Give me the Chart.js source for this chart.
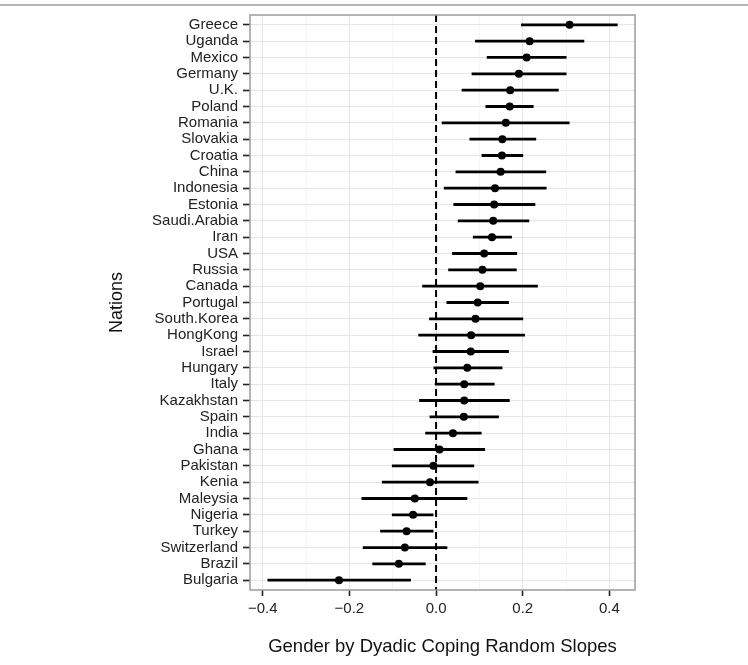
<!DOCTYPE html>
<html>
<head>
<meta charset="utf-8">
<script src="https://cdn.jsdelivr.net/npm/chart.js@4.4.1/dist/chart.umd.min.js"></script>
<style>
  html, body { margin: 0; padding: 0; background: #fff; }
  #wrap { position: relative; width: 748px; height: 665px; }
  #rule { position: absolute; left: 0; top: 4px; width: 748px; height: 2px; background: #b4b4b4; }
  canvas { display: block; }
</style>
</head>
<body>
<div id="wrap">
  <canvas id="slopeChart" width="748" height="665"></canvas>
  <div id="rule"></div>
</div>
<script>
'use strict';

/* data, top row first */
var nations = ['Greece', 'Uganda', 'Mexico', 'Germany', 'U.K.', 'Poland', 'Romania', 'Slovakia',
  'Croatia', 'China', 'Indonesia', 'Estonia', 'Saudi.Arabia', 'Iran', 'USA', 'Russia', 'Canada',
  'Portugal', 'South.Korea', 'HongKong', 'Israel', 'Hungary', 'Italy', 'Kazakhstan', 'Spain',
  'India', 'Ghana', 'Pakistan', 'Kenia', 'Maleysia', 'Nigeria', 'Turkey', 'Switzerland', 'Brazil',
  'Bulgaria'];
var estimate = [0.308, 0.216, 0.209, 0.191, 0.171, 0.170, 0.161, 0.153, 0.152, 0.149, 0.136,
  0.134, 0.132, 0.129, 0.111, 0.107, 0.102, 0.096, 0.091, 0.081, 0.080, 0.072, 0.065, 0.065,
  0.064, 0.039, 0.008, -0.006, -0.014, -0.049, -0.053, -0.068, -0.072, -0.086, -0.224];
var lower = [0.196, 0.090, 0.117, 0.082, 0.059, 0.114, 0.013, 0.077, 0.105, 0.045, 0.018,
  0.040, 0.050, 0.085, 0.037, 0.028, -0.032, 0.024, -0.016, -0.041, -0.008, -0.006, -0.003,
  -0.039, -0.015, -0.025, -0.098, -0.102, -0.125, -0.172, -0.102, -0.129, -0.169, -0.147, -0.389];
var upper = [0.419, 0.342, 0.301, 0.301, 0.283, 0.225, 0.308, 0.231, 0.201, 0.254, 0.255,
  0.229, 0.215, 0.175, 0.187, 0.186, 0.235, 0.168, 0.201, 0.205, 0.168, 0.153, 0.135, 0.170,
  0.145, 0.105, 0.113, 0.088, 0.098, 0.072, -0.006, -0.006, 0.026, -0.024, -0.058];
var xTicks = [-0.4, -0.2, 0.0, 0.2, 0.4];

var FONT = '"Liberation Sans", Arial, Helvetica, sans-serif';

function isMajor(v) {
  for (var i = 0; i < xTicks.length; i++) {
    if (Math.abs(v - xTicks[i]) < 1e-6) return true;
  }
  return false;
}

/* points first so they sit on top of the interval lines */
var datasets = [{
  label: 'estimate',
  data: nations.map(function (n, i) { return { x: estimate[i], y: i }; }),
  pointRadius: 4,
  pointBackgroundColor: '#000',
  pointBorderWidth: 0,
  showLine: false
}];

for (var i = 0; i < nations.length; i++) {
  datasets.push({
    label: nations[i],
    data: [{ x: lower[i], y: i }, { x: upper[i], y: i }],
    showLine: true,
    borderColor: '#000',
    borderWidth: 2.8,
    pointRadius: 0
  });
}

/* dashed zero line and panel border */
var panelPlugin = {
  id: 'panel',
  beforeDatasetsDraw: function (chart) {
    var ctx = chart.ctx, area = chart.chartArea;
    var x0 = chart.scales.x.getPixelForValue(0);
    ctx.save();
    ctx.strokeStyle = '#000';
    ctx.lineWidth = 2;
    ctx.setLineDash([7, 4]);
    ctx.beginPath();
    ctx.moveTo(x0, area.top);
    ctx.lineTo(x0, area.bottom);
    ctx.stroke();
    ctx.restore();
  },
  afterDatasetsDraw: function (chart) {
    var ctx = chart.ctx, area = chart.chartArea;
    ctx.save();
    ctx.strokeStyle = '#9c9c9c';
    ctx.lineWidth = 1.5;
    ctx.strokeRect(area.left, area.top, area.right - area.left, area.bottom - area.top);
    ctx.restore();
  }
};

var slopeChart = new Chart(document.getElementById('slopeChart').getContext('2d'), {
  type: 'scatter',
  data: { datasets: datasets },
  plugins: [panelPlugin],
  options: {
    responsive: false,
    animation: false,
    events: [],
    layout: { padding: { top: 15, right: 113, left: 0, bottom: 0 } },
    plugins: { legend: { display: false }, tooltip: { enabled: false } },
    scales: {
      x: {
        type: 'linear',
        min: -0.4293,
        max: 0.459,
        afterFit: function (scale) { scale.height = 75; },
        border: { display: false },
        grid: {
          color: function (c) { return isMajor(c.tick.value) ? '#e6e6e6' : '#f5f5f5'; },
          tickColor: function (c) { return isMajor(c.tick.value) ? '#222' : 'rgba(0,0,0,0)'; },
          tickLength: 6,
          tickWidth: 1.6,
          lineWidth: 1
        },
        ticks: {
          stepSize: 0.1,
          includeBounds: false,
          autoSkip: false,
          maxRotation: 0,
          padding: 4,
          color: '#222',
          font: { family: FONT, size: 15 },
          callback: function (v) {
            if (!isMajor(v)) return '';
            return v.toFixed(1).replace('-', '\u2212');
          }
        },
        title: {
          display: true,
          text: 'Gender by Dyadic Coping Random Slopes',
          color: '#111',
          font: { family: FONT, size: 18.5 },
          padding: { top: 0, bottom: 7 }
        }
      },
      y: {
        type: 'linear',
        reverse: true,
        min: -0.6,
        max: 34.6,
        afterFit: function (scale) { scale.width = 250; },
        border: { display: false },
        grid: {
          color: '#e6e6e6',
          tickColor: '#222',
          tickLength: 7,
          tickWidth: 1.6,
          lineWidth: 1
        },
        ticks: {
          stepSize: 1,
          includeBounds: false,
          autoSkip: false,
          padding: 5,
          color: '#222',
          font: { family: FONT, size: 15 },
          callback: function (v) {
            var k = Math.round(v);
            return nations[k] !== undefined ? nations[k] : '';
          }
        },
        title: {
          display: true,
          text: 'Nations',
          color: '#111',
          font: { family: FONT, size: 18 },
          padding: { top: 106, bottom: 0 }
        }
      }
    }
  }
});
</script>
</body>
</html>
